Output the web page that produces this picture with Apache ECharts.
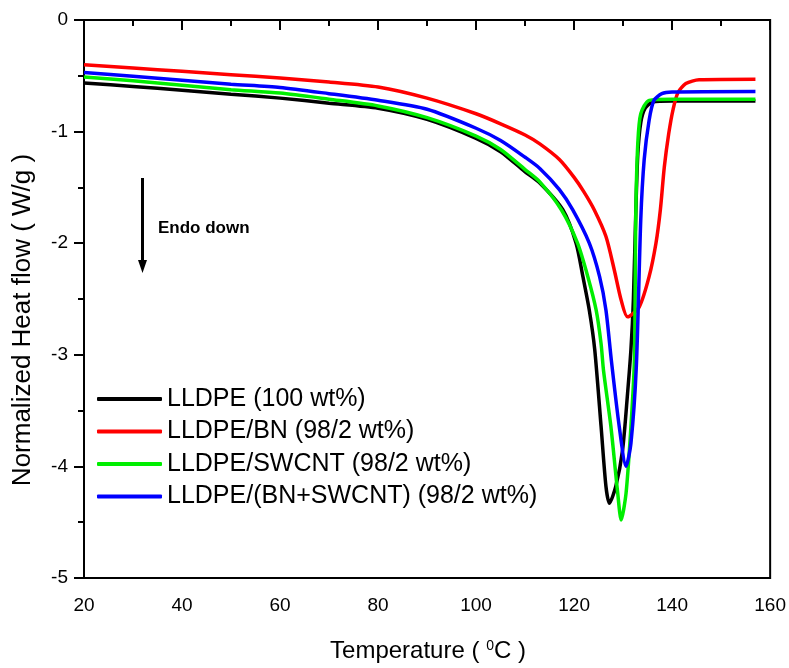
<!DOCTYPE html>
<html>
<head>
<meta charset="utf-8">
<script src="https://cdn.jsdelivr.net/npm/echarts@6/dist/echarts.min.js"></script>
<style>html,body{margin:0;padding:0;background:#fff}#c{width:789px;height:668px}</style>
</head>
<body>
<div id="c"></div>
<script>
var seriesNames = ['LLDPE (100 wt%)', 'LLDPE/BN (98/2 wt%)', 'LLDPE/SWCNT (98/2 wt%)', 'LLDPE/(BN+SWCNT) (98/2 wt%)'];
var xTicks = [20, 40, 60, 80, 100, 120, 140, 160];
var yTicks = [0, -1, -2, -3, -4, -5];

var black = [[20,-0.565],[30,-0.595],[40,-0.63],[50,-0.665],[60,-0.70],[70,-0.745],[80,-0.79],[90,-0.89],[100,-1.06],[105,-1.18],[110,-1.36],[113,-1.46],[117.7,-1.70],[120.4,-2.0],[121.8,-2.30],[123.1,-2.60],[124.2,-2.95],[125.5,-3.64],[126.5,-4.18],[127.2,-4.33],[128.5,-4.18],[129.9,-3.85],[130.9,-3.35],[131.6,-2.95],[132.1,-2.5],[132.6,-1.70],[133.0,-1.2],[133.6,-0.92],[134.5,-0.79],[136,-0.735],[140,-0.725],[150,-0.725],[157,-0.725]];
var red = [[20,-0.40],[30,-0.43],[40,-0.46],[50,-0.49],[60,-0.52],[70,-0.555],[80,-0.60],[90,-0.70],[100,-0.84],[105,-0.93],[110,-1.03],[113,-1.11],[117,-1.25],[120,-1.41],[122,-1.54],[124.1,-1.70],[126.5,-1.94],[128.2,-2.24],[129.6,-2.51],[130.9,-2.66],[133.3,-2.57],[135.3,-2.30],[136.7,-2.0],[137.6,-1.70],[138.4,-1.32],[139.3,-1.02],[140.2,-0.80],[141.2,-0.65],[142.8,-0.57],[145.5,-0.535],[157,-0.53]];
var green = [[20,-0.51],[30,-0.545],[40,-0.585],[50,-0.625],[60,-0.655],[70,-0.71],[80,-0.77],[90,-0.875],[100,-1.04],[105,-1.16],[110,-1.34],[113,-1.45],[117.4,-1.70],[120.7,-2.0],[122.8,-2.30],[124.5,-2.60],[125.5,-2.90],[126.0,-3.14],[127.5,-3.64],[128.9,-4.24],[129.6,-4.48],[130.6,-4.24],[131.6,-3.64],[132.3,-3.05],[132.6,-1.70],[133.0,-1.10],[133.6,-0.84],[135.3,-0.72],[140,-0.71],[157,-0.71]];
var blue = [[20,-0.47],[30,-0.505],[40,-0.54],[50,-0.575],[60,-0.605],[70,-0.66],[80,-0.72],[90,-0.80],[100,-0.97],[105,-1.08],[110,-1.23],[113,-1.33],[117,-1.52],[119.7,-1.70],[123.1,-2.0],[125.2,-2.30],[126.5,-2.60],[127.6,-3.05],[129.2,-3.64],[130.6,-4.0],[131.6,-3.79],[132.7,-3.1],[133.6,-1.79],[134.3,-1.25],[135.3,-0.90],[136.3,-0.72],[137.9,-0.66],[140,-0.645],[157,-0.64]];

var colors = ['#000000', '#ff0000', '#00ee00', '#0000ff'];
var datasets = [black, red, green, blue];

var chart = echarts.init(document.getElementById('c'), null, {renderer: 'canvas'});
var font = 'Arial, "Liberation Sans", sans-serif';
var option = {
  animation: false,
  backgroundColor: '#fff',
  grid: {left: 84, right: 18, top: 20, bottom: 90, show: true, borderColor: '#000', borderWidth: 2, backgroundColor: 'transparent'},
  legend: {
    orient: 'vertical', left: 97, top: 386, padding: 0,
    itemWidth: 65, itemHeight: 4, itemGap: 6.5, icon: 'roundRect',
    textStyle: {fontSize: 25, fontFamily: font, color: '#000', lineHeight: 26},
    data: seriesNames
  },
  xAxis: {
    type: 'value', min: 20, max: 160, interval: 20,
    axisLine: {show: true, lineStyle: {color: '#000', width: 2}},
    axisTick: {show: true, inside: false, length: 10, lineStyle: {color: '#000', width: 2}},
    minorTick: {show: true, splitNumber: 2, length: 6, lineStyle: {color: '#000', width: 2}},
    splitLine: {show: false},
    axisLabel: {margin: 18, fontSize: 19, fontFamily: font, color: '#000',
      formatter: function (v) { return xTicks.indexOf(v) >= 0 ? String(v) : ''; }}
  },
  yAxis: {
    type: 'value', min: -5, max: 0, interval: 1,
    axisLine: {show: true, lineStyle: {color: '#000', width: 2}},
    axisTick: {show: true, inside: false, length: 10, lineStyle: {color: '#000', width: 2}},
    minorTick: {show: true, splitNumber: 2, length: 6, lineStyle: {color: '#000', width: 2}},
    splitLine: {show: false},
    axisLabel: {margin: 16, fontSize: 19, fontFamily: font, color: '#000',
      formatter: function (v) { return yTicks.indexOf(v) >= 0 ? String(v) : ''; }}
  },
  series: datasets.map(function (d, i) {
    return {
      name: seriesNames[i], type: 'line', data: d, showSymbol: false, symbol: 'none',
      smooth: 0.25,
      lineStyle: {color: colors[i], width: 3.5}, itemStyle: {color: colors[i]}
    };
  }),
  graphic: [
    {type: 'text', x: 23, y: 320, rotation: Math.PI / 2,
      style: {text: 'Normalized Heat flow ( W/g )', font: '26px ' + font, fill: '#000', align: 'center', verticalAlign: 'middle'}},
    {type: 'text', x: 428, y: 651,
      style: {text: 'Temperature ( {s|0}C )', font: '24px ' + font, fill: '#000', align: 'center', verticalAlign: 'middle',
        rich: {s: {fontSize: 14, fontFamily: font, verticalAlign: 'top', fill: '#000', lineHeight: 24}}}},
    {type: 'line', shape: {x1: 142.5, y1: 178, x2: 142.5, y2: 262}, style: {stroke: '#000', lineWidth: 3}},
    {type: 'polygon', shape: {points: [[138, 260], [147, 260], [142.5, 273]]}, style: {fill: '#000'}},
    {type: 'text', x: 158, y: 228,
      style: {text: 'Endo down', font: 'bold 17px ' + font, fill: '#000', align: 'left', verticalAlign: 'middle'}}
  ]
};
chart.setOption(option);
</script>
</body>
</html>
